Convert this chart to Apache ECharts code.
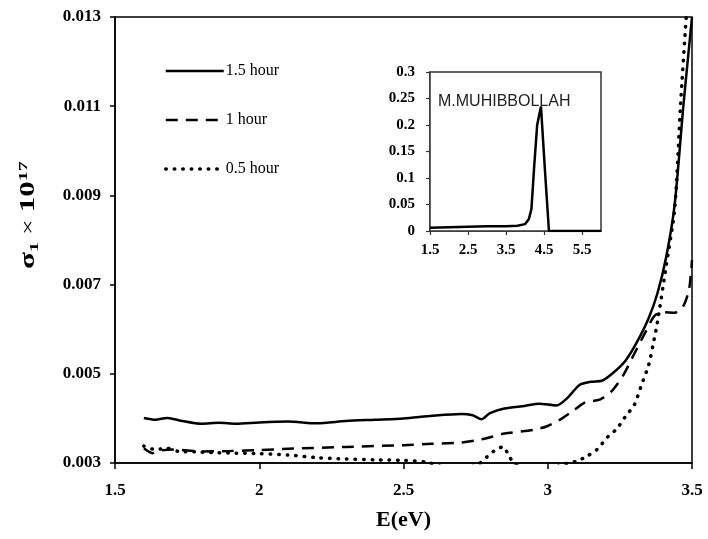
<!DOCTYPE html>
<html>
<head>
<meta charset="utf-8">
<script src="https://cdn.jsdelivr.net/npm/echarts@6/dist/echarts.min.js"></script>
<style>
  html, body { margin: 0; padding: 0; background: #fff; }
  #chart { width: 708px; height: 539px; }
</style>
</head>
<body>
<div id="chart"></div>
<script>
// Photon energy (eV) and optical conductivity sigma_1 (x 10^17) for each deposition time
const energy15h = [1.60, 1.64, 1.68, 1.72, 1.80, 1.86, 1.92, 2.00, 2.10, 2.20, 2.30, 2.40, 2.50, 2.60, 2.70, 2.74, 2.77, 2.80, 2.85, 2.92, 2.97, 3.03, 3.07, 3.11, 3.15, 3.19, 3.23, 3.27, 3.31, 3.35, 3.38, 3.41, 3.44, 3.47, 3.50];
const sigma15h  = [0.00401, 0.00397, 0.00401, 0.00396, 0.00388, 0.00390, 0.00388, 0.00391, 0.00393, 0.00389, 0.00394, 0.00397, 0.00400, 0.00406, 0.00410, 0.00407, 0.00398, 0.00412, 0.00422, 0.00428, 0.00433, 0.00429, 0.00447, 0.00475, 0.00482, 0.00485, 0.00504, 0.00530, 0.00572, 0.00625, 0.00680, 0.00760, 0.00880, 0.01100, 0.01300];

const energy1h = [1.60, 1.63, 1.66, 1.70, 1.80, 1.90, 2.00, 2.10, 2.30, 2.50, 2.60, 2.70, 2.77, 2.85, 2.95, 3.00, 3.05, 3.09, 3.13, 3.18, 3.22, 3.26, 3.30, 3.34, 3.37, 3.40, 3.44, 3.47, 3.49, 3.50];
const sigma1h  = [0.00333, 0.00322, 0.00328, 0.00330, 0.00326, 0.00327, 0.00329, 0.00332, 0.00336, 0.00340, 0.00343, 0.00346, 0.00353, 0.00366, 0.00374, 0.00383, 0.00400, 0.00418, 0.00436, 0.00442, 0.00460, 0.00495, 0.00545, 0.00595, 0.00630, 0.00638, 0.00637, 0.00652, 0.00690, 0.00755];

const energy05h = [1.60, 1.64, 1.68, 1.72, 1.78, 1.85, 1.92, 2.00, 2.10, 2.20, 2.30, 2.40, 2.50, 2.58, 2.64, 2.70, 2.76, 2.79, 2.82, 2.845, 2.865, 2.885, 2.95, 3.02, 3.07, 3.10, 3.135, 3.17, 3.21, 3.24, 3.27, 3.30, 3.325, 3.35, 3.365, 3.38, 3.41, 3.44, 3.46, 3.48, 3.50];
const sigma05h  = [0.00338, 0.00330, 0.00333, 0.00326, 0.00325, 0.00323, 0.00322, 0.00321, 0.00318, 0.00312, 0.00309, 0.00307, 0.00306, 0.00302, 0.00290, 0.00285, 0.00298, 0.00314, 0.00330, 0.00336, 0.00317, 0.00298, 0.00285, 0.00290, 0.00300, 0.00304, 0.00315, 0.00330, 0.00360, 0.00377, 0.00405, 0.00430, 0.00475, 0.00520, 0.00565, 0.00615, 0.00740, 0.00870, 0.01100, 0.01300, 0.01480];

// Inset: full energy range
const insetEnergy = [1.5, 2.0, 2.5, 3.0, 3.5, 3.8, 4.0, 4.1, 4.17, 4.24, 4.32, 4.42, 4.52, 4.63, 5.0, 6.0];
const insetSigma  = [0.006, 0.007, 0.008, 0.009, 0.009, 0.010, 0.013, 0.022, 0.042, 0.120, 0.200, 0.235, 0.120, 0.0, 0.0, 0.0];

// Axis ticks
const mainXTicks = [1.5, 2, 2.5, 3, 3.5];
const mainYTicks = [0.003, 0.005, 0.007, 0.009, 0.011, 0.013];
const insetXTicks = [1.5, 2.5, 3.5, 4.5, 5.5];
const insetYTicks = [0, 0.05, 0.1, 0.15, 0.2, 0.25, 0.3];

const seriesNames = ['1.5 hour', '1 hour', '0.5 hour'];

const pairs = (xs, ys) => xs.map((x, i) => [x, ys[i]]);
const SERIF = "'Liberation Serif', 'Times New Roman', serif";

const solidStyle  = { color: '#000', width: 2.5 };
const dashedStyle = { color: '#000', width: 2.5, type: [12, 8] };
const dottedStyle = { color: '#000', width: 3.5, type: [0.5, 8], cap: 'round' };

const chart = echarts.init(document.getElementById('chart'), null, { renderer: 'canvas' });

const boldSerif = (size) => ({ fontFamily: SERIF, fontWeight: 'bold', fontSize: size, color: '#000' });

chart.setOption({
  animation: false,
  backgroundColor: '#fff',
  grid: [
    { left: 115, top: 17, width: 577, height: 446, show: true, borderColor: '#000', borderWidth: 1.5, backgroundColor: 'transparent' },
    { left: 430, top: 72, width: 171, height: 159, show: true, borderColor: '#333', borderWidth: 1.5, backgroundColor: '#fff', z: 5 }
  ],
  legend: {
    data: [
      { name: seriesNames[0], lineStyle: solidStyle },
      { name: seriesNames[1], lineStyle: dashedStyle },
      { name: seriesNames[2], lineStyle: dottedStyle }
    ],
    orient: 'vertical',
    left: 159,
    top: 58,
    itemWidth: 58,
    itemHeight: 14,
    itemGap: 33,
    itemStyle: { opacity: 0 },
    textStyle: { fontFamily: SERIF, fontSize: 16, color: '#000', padding: [0, 0, 0, -3] }
  },
  xAxis: [
    {
      type: 'value', gridIndex: 0, min: 1.5, max: 3.5,
      name: 'E(eV)', nameLocation: 'middle', nameGap: 46,
      nameTextStyle: boldSerif(22),
      axisLine: { show: true, lineStyle: { color: '#000', width: 1.5 } },
      axisTick: { show: true, length: 6, customValues: mainXTicks, lineStyle: { color: '#000', width: 1.5 } },
      axisLabel: { customValues: mainXTicks, margin: 19, formatter: v => String(v), ...boldSerif(17) },
      splitLine: { show: false }
    },
    {
      type: 'value', gridIndex: 1, min: 1.5, max: 6,
      axisLine: { show: true, lineStyle: { color: '#333', width: 1.5 } },
      axisTick: { show: true, length: 4, customValues: insetXTicks, lineStyle: { color: '#333', width: 1.2 } },
      axisLabel: { customValues: insetXTicks, margin: 12, formatter: v => String(v), ...boldSerif(15) },
      splitLine: { show: false }
    }
  ],
  yAxis: [
    {
      type: 'value', gridIndex: 0, min: 0.003, max: 0.013,
      axisLine: { show: true, lineStyle: { color: '#000', width: 1.5 } },
      axisTick: { show: true, length: 5, customValues: mainYTicks, lineStyle: { color: '#000', width: 1.5 } },
      axisLabel: { customValues: mainYTicks, margin: 14, formatter: v => v.toFixed(3), ...boldSerif(17) },
      splitLine: { show: false }
    },
    {
      type: 'value', gridIndex: 1, min: 0, max: 0.3,
      axisLine: { show: true, lineStyle: { color: '#333', width: 1.5 } },
      axisTick: { show: true, length: 4, customValues: insetYTicks, lineStyle: { color: '#333', width: 1.2 } },
      axisLabel: { customValues: insetYTicks, margin: 15, formatter: v => String(parseFloat(v.toFixed(2))), ...boldSerif(15) },
      splitLine: { show: false }
    }
  ],
  series: [
    {
      name: seriesNames[0], type: 'line', xAxisIndex: 0, yAxisIndex: 0,
      data: pairs(energy15h, sigma15h), symbol: 'none', smooth: 0.25,
      lineStyle: solidStyle, itemStyle: { color: '#000' }
    },
    {
      name: seriesNames[1], type: 'line', xAxisIndex: 0, yAxisIndex: 0,
      data: pairs(energy1h, sigma1h), symbol: 'none', smooth: 0.25,
      lineStyle: dashedStyle, itemStyle: { color: '#000' }
    },
    {
      name: seriesNames[2], type: 'line', xAxisIndex: 0, yAxisIndex: 0,
      data: pairs(energy05h, sigma05h), symbol: 'none', smooth: 0.25,
      lineStyle: dottedStyle, itemStyle: { color: '#000' }
    },
    {
      name: 'inset', type: 'line', xAxisIndex: 1, yAxisIndex: 1, z: 6,
      data: pairs(insetEnergy, insetSigma), symbol: 'none',
      lineStyle: { color: '#000', width: 2.5 }
    }
  ],
  graphic: [
    {
      type: 'text', x: 29, y: 215, rotation: Math.PI / 2, scaleX: 1.55, scaleY: 1, z: 10,
      style: {
        text: '{a|σ}{b|1}{c| × }{a|10}{d|17}',
        align: 'center', verticalAlign: 'middle',
        rich: {
          a: { fontFamily: SERIF, fontWeight: 'bold', fontSize: 20, fill: '#000', verticalAlign: 'middle' },
          b: { fontFamily: SERIF, fontWeight: 'bold', fontSize: 13, fill: '#000', verticalAlign: 'middle', padding: [11, 0, 0, 0] },
          c: { fontFamily: SERIF, fontSize: 18, fill: '#000', verticalAlign: 'middle' },
          d: { fontFamily: SERIF, fontWeight: 'bold', fontSize: 13, fill: '#000', verticalAlign: 'middle', padding: [0, 0, 11, 0] }
        }
      }
    },
    {
      type: 'text', x: 438, y: 102, z: 10,
      style: {
        text: 'M.MUHIBBOLLAH', fill: '#222',
        font: "16px 'Liberation Sans', Arial, sans-serif",
        align: 'left', verticalAlign: 'middle'
      }
    }
  ]
});
</script>
</body>
</html>
